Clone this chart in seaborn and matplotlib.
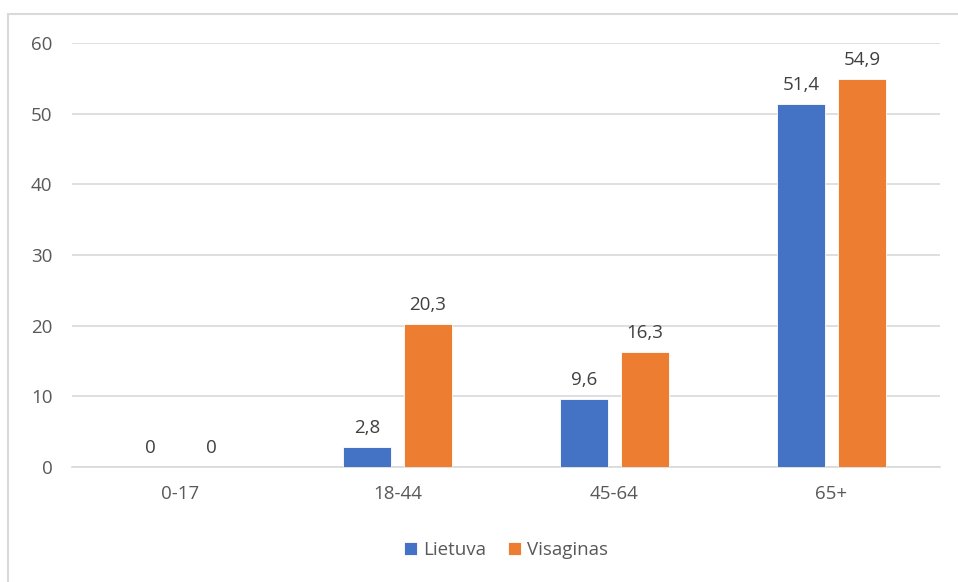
import matplotlib
matplotlib.use("Agg")
import matplotlib.pyplot as plt
import seaborn as sns
import pandas as pd
from matplotlib.patches import Rectangle

categories = ["0-17", "18-44", "45-64", "65+"]
lietuva = [0, 2.8, 9.6, 51.4]
visaginas = [0, 20.3, 16.3, 54.9]
series_names = ["Lietuva", "Visaginas"]
colors = ["#4472C4", "#ED7D31"]

df = pd.DataFrame({
    "cat": categories * 2,
    "val": lietuva + visaginas,
    "series": [series_names[0]] * 4 + [series_names[1]] * 4,
})

sns.set_theme(style="white")
plt.rcParams["font.family"] = ["Open Sans", "DejaVu Sans"]

fig = plt.figure(figsize=(9.58, 5.82), dpi=100)
ax = fig.add_axes([72 / 958, 1 - 467 / 582, 868 / 958, 424 / 582])

sns.barplot(data=df, x="cat", y="val", hue="series", palette=colors,
            width=0.56, gap=0.21, ax=ax, saturation=1, legend=True, zorder=3,
            edgecolor="white", linewidth=0.6)

ax.set_ylim(0, 60)
ax.set_xlim(-0.5, 3.5)
ax.set_yticks(range(0, 61, 10))
ax.grid(axis="y", color="#d9d9d9", linewidth=1.2, zorder=0)
ax.set_axisbelow(True)
for s in ["top", "right", "left"]:
    ax.spines[s].set_visible(False)
ax.spines["bottom"].set_color("#d9d9d9")
ax.spines["bottom"].set_linewidth(1.2)
ax.set_xlabel("")
ax.set_ylabel("")
ax.tick_params(axis="both", colors="#595959", labelsize=13.5, length=0)
ax.tick_params(axis="y", pad=14)
ax.tick_params(axis="x", pad=13)

def fmt(v):
    return ("%g" % v).replace(".", ",")

for cont in ax.containers:
    ax.bar_label(cont, labels=[fmt(v) for v in cont.datavalues], padding=7,
                 color="#404040", fontsize=13.5)

handles, labels = ax.get_legend_handles_labels()
ax.legend(handles, labels, loc="upper center", bbox_to_anchor=(0.5, -0.135),
          ncol=2, frameon=False, fontsize=13.5, handlelength=0.7, handleheight=0.7,
          handletextpad=0.3, columnspacing=1.2, labelcolor="#595959")

fig.patches.append(Rectangle((8 / 958, -0.05), 1.1, 1 - 14 / 582 + 0.05,
                             transform=fig.transFigure, fill=False,
                             edgecolor="#d9d9d9", linewidth=1.5))

fig.savefig("out.png", dpi=100)
